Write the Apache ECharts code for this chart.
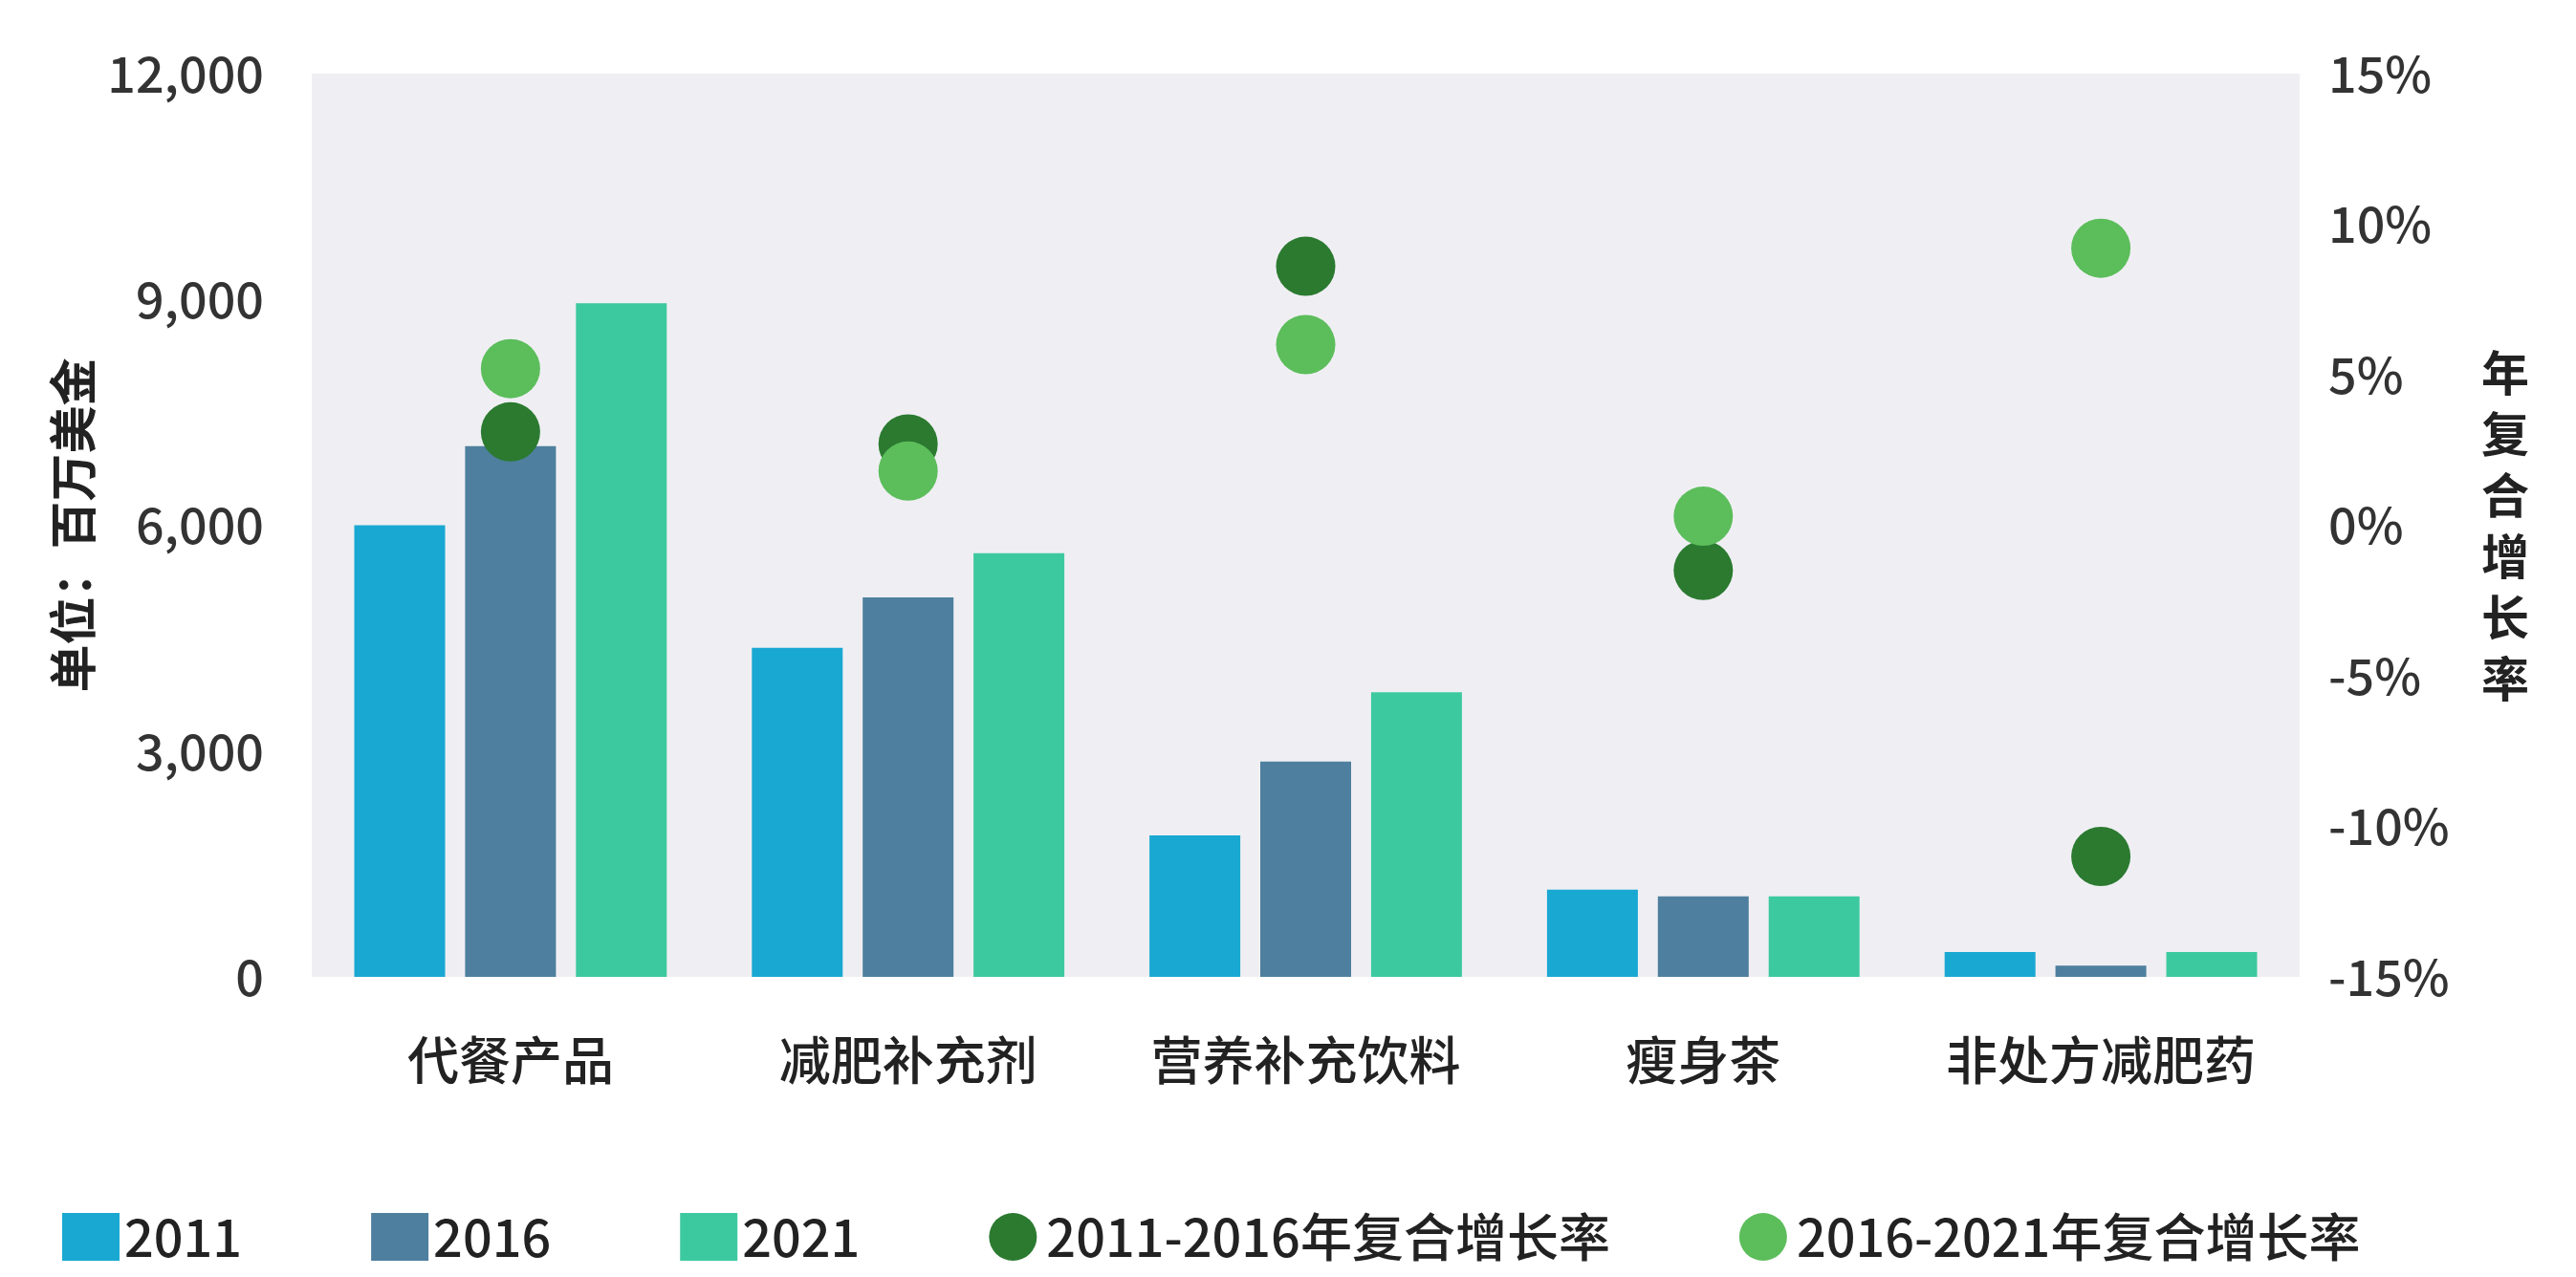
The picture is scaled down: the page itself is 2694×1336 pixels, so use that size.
<!DOCTYPE html>
<html><head><meta charset="utf-8">
<script src="https://cdn.jsdelivr.net/npm/echarts@6/dist/echarts.min.js"></script>
<style>html,body{margin:0;padding:0;background:#fff}#c{width:2694px;height:1336px}</style>
</head><body><div id="c"></div>
<script>
var categories = ['代餐产品','减肥补充剂','营养补充饮料','瘦身茶','非处方减肥药'];
var v2011 = [6000,4370,1880,1160,330];
var v2016 = [7050,5040,2860,1070,150];
var v2021 = [8950,5630,3780,1070,330];
var cagr1116 = [3.1,2.7,8.6,-1.5,-11];
var cagr1621 = [5.2,1.8,6.0,0.3,9.2];
var F = '"Noto Sans CJK SC", sans-serif';
var chart = echarts.init(document.getElementById('c'));
chart.setOption({
  textStyle:{fontFamily:F},
  grid:{left:326,right:289,top:77,bottom:314,show:true,backgroundColor:'#efeff3',borderWidth:0},
  legend:{bottom:10,left:60,itemWidth:60,itemHeight:50,itemGap:135,textStyle:{fontSize:54,color:'#222',fontFamily:F,fontWeight:500},
    data:[{name:'2011',icon:'rect'},{name:'2016',icon:'rect'},{name:'2021',icon:'rect'},{name:'2011-2016年复合增长率',icon:'circle'},{name:'2016-2021年复合增长率',icon:'circle'}]},
  xAxis:{type:'category',data:categories,axisLine:{show:false},axisTick:{show:false},
    axisLabel:{fontSize:54,color:'#222',margin:60,interval:0,fontWeight:500}},
  yAxis:[{type:'value',min:0,max:12000,interval:3000,name:'单位：百万美金',nameLocation:'middle',nameGap:220,
      nameTextStyle:{fontSize:50,color:'#222',fontWeight:'bold'},
      splitLine:{show:false},axisLabel:{fontSize:52,color:'#333',margin:50,fontWeight:500,formatter:function(v){return v.toLocaleString('en-US');}}},
    {type:'value',min:-15,max:15,interval:5,name:'年\n复\n合\n增\n长\n率',nameLocation:'middle',nameGap:190,nameRotate:0,
      nameTextStyle:{fontSize:50,color:'#222',fontWeight:'bold',lineHeight:64},
      splitLine:{show:false},axisLabel:{fontSize:52,color:'#333',margin:30,fontWeight:500,formatter:'{value}%'}}],
  series:[
    {name:'2011',type:'bar',data:v2011,barWidth:95,barGap:'22%',itemStyle:{color:'#19a8d2'}},
    {name:'2016',type:'bar',data:v2016,barWidth:95,itemStyle:{color:'#4e7f9e'}},
    {name:'2021',type:'bar',data:v2021,barWidth:95,itemStyle:{color:'#3dc9a0'}},
    {name:'2011-2016年复合增长率',type:'scatter',yAxisIndex:1,data:cagr1116,symbolSize:62,itemStyle:{color:'#2b7a30',opacity:1},z:5},
    {name:'2016-2021年复合增长率',type:'scatter',yAxisIndex:1,data:cagr1621,symbolSize:62,itemStyle:{color:'#5cbd5b',opacity:1},z:6}
  ]
});
</script></body></html>
